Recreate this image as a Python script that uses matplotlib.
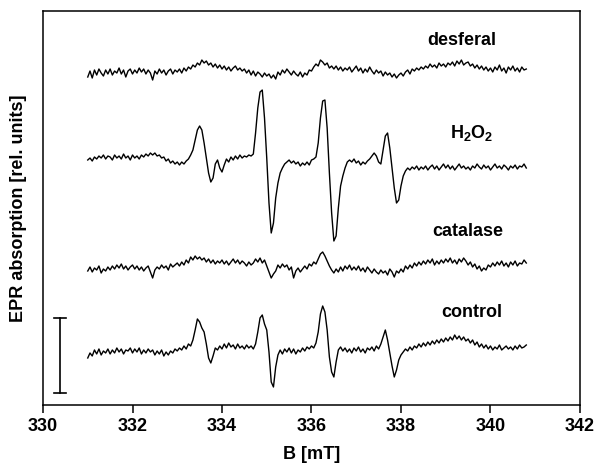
import numpy as np
import matplotlib
matplotlib.use("Agg")
import matplotlib.pyplot as plt

plt.rcParams['font.family'] = ['Liberation Sans', 'DejaVu Sans']
plt.rcParams['font.weight'] = 'bold'
plt.rcParams['mathtext.fontset'] = 'custom'
plt.rcParams['mathtext.bf'] = 'Liberation Sans:bold'
plt.rcParams['mathtext.rm'] = 'Liberation Sans:bold'
plt.rcParams['mathtext.default'] = 'bf'

# field axis of the spectra, 331.00 ... 340.80 mT in 0.05 mT steps
b_start = 331.0
b_step = 0.05

# spectra (rel. units, relative to each trace's own baseline)
desferal = [
    -5, 1, -6, 2, -3, 3, -1, -4, 2, -2,
    3, -3, 1, -1, 4, -2, 2, -5, 1, 3,
    -2, 2, -1, 4, 0, 3, -2, 2, -1, -8,
    1, -2, 3, -1, 2, -3, 1, 3, -2, 2,
    0, 3, -1, 4, 1, 5, 3, 7, 5, 9,
    7, 12, 9, 11, 7, 9, 5, 8, 4, 7,
    3, 6, 2, 5, 1, 4, 6, 2, 4, 1,
    3, -1, 2, -3, 1, -4, 0, -2, -5, -1,
    -4, -2, -6, -3, -7, 0, -3, 2, -1, 3,
    0, -3, 1, -2, -4, 0, -5, -1, -3, 2,
    1, 5, 8, 6, 12, 10, 7, 9, 4, 6,
    3, 6, 2, 5, 1, 4, 2, 5, 0, 3,
    6, 1, 4, -1, 3, 0, 5, 1, -2, 2,
    -1, 1, -4, 0, -3, -1, -5, -2, -6, -3,
    -1, -4, 0, 2, -2, 3, 1, 4, 2, 5,
    3, 6, 4, 8, 5, 7, 4, 9, 6, 8,
    5, 9, 7, 10, 6, 11, 8, 12, 7, 9,
    10, 6, 8, 4, 7, 3, 6, 2, 5, 1,
    4, 0, 5, 2, 7, 1, 4, -1, 5, 2,
    6, 1, 4, 0, 5, 2, 3,
]

h2o2 = [
    -2, 0, -3, 1, -1, 2, 0, 3, -1, 2,
    1, -2, 3, 0, 2, -1, 4, 0, 2, -2,
    3, 0, 2, -1, 3, 1, 4, 2, 5, 3,
    5, 2, 3, 0, 1, -3, -1, -5, -3, -6,
    -4, -7, -4, -6, -3, -1, 3, 8, 18, 28,
    32, 28, 15, 0, -15, -24, -20, -6, -2, -10,
    -14, -7, -1, -4, 1, -2, 2, -1, 3, 0,
    2, 1, 3, 2, 4, 25, 50, 66, 68, 40,
    0, -45, -75, -65, -40, -25, -15, -10, -6, -4,
    -2, -5, -3, -6, -4, -8, -5, -7, -4, -7,
    -2, -1, 1, 15, 40, 57, 58, 30, -15, -55,
    -83, -78, -50, -28, -18, -10, -4, -2, -4, -1,
    -5, -3, -7, -4, -6, -3, -1, 2, 5, 2,
    -4, -6, 8, 22, 25, 10, -10, -30, -45, -42,
    -28, -18, -13, -10, -12, -9, -11, -8, -12, -9,
    -11, -8, -12, -9, -7, -11, -8, -12, -9, -6,
    -10, -7, -11, -8, -12, -9, -6, -10, -8, -11,
    -9, -12, -8, -10, -6, -9, -11, -7, -10, -8,
    -12, -9, -6, -10, -8, -11, -7, -9, -12, -8,
    -10, -7, -11, -8, -9, -6, -10,
]

catalase = [
    -3, 1, -4, 0, -2, 2, -5, -1, -3, 1,
    -2, 2, -1, 3, 0, 4, -1, 2, -2, 1,
    3, -1, 2, -2, 1, -3, 0, 2, -4, -10,
    -2, 1, -1, 3, 0, 2, -2, 4, 1, 3,
    5, 2, 6, 3, 8, 5, 11, 8, 12, 9,
    11, 8, 10, 6, 9, 5, 8, 4, 7, 5,
    8, 4, 7, 3, 6, 9, 5, 8, 4, 7,
    5, 2, 6, 3, 5, 9, 6, 10, 5, 8,
    2, -4, -10, -6, -3, 3, 0, 4, 1, 3,
    -2, 1, -10, -3, 0, -4, -1, 2, -1, 4,
    2, 6, 4, 9, 14, 16, 12, 7, 2, -2,
    -5, -1, -4, 1, -3, 2, -1, 3, -2, 1,
    -2, 2, -3, 0, -4, 1, -2, -5, -1, -4,
    -6, -2, -5, -3, -7, -1, -4, -9, -3, -5,
    -1, -4, 2, -1, 3, 0, 5, 2, 6, 3,
    7, 4, 8, 5, 9, 3, 7, 4, 8, 5,
    9, 6, 10, 5, 8, 4, 9, 6, 10, 7,
    3, 6, 1, 4, -1, 2, -3, 0, -2, 3,
    1, 5, 2, 6, 3, 7, 2, 5, 1, 6,
    3, 7, 2, 5, 4, 8, 5,
]

control = [
    -6, -1, -4, 2, -2, 3, -3, 1, -1, 3,
    -2, 2, -1, 4, 0, 3, -2, 2, 1, 4,
    -1, 3, 0, 4, -2, 2, -1, 3, 0, 2,
    -3, 1, -2, 2, -4, 0, -3, 1, -1, 3,
    1, 4, 2, 6, 3, 8, 6, 12, 22, 33,
    30, 24, 20, 8, -6, -11, -4, 4, 2, 6,
    3, 8, 4, 9, 5, 7, 3, 8, 4, 6,
    3, 7, 4, 6, 3, 8, 20, 34, 37, 28,
    22, 0, -30, -35, -15, -3, 2, -2, 3, 0,
    4, -1, 3, -2, 2, 0, 4, 1, 5, 3,
    6, 4, 9, 20, 38, 46, 40, 22, -5, -20,
    -25, -10, 2, 5, 1, 4, 0, 3, -1, 4,
    1, 5, 0, 3, -1, 4, 2, 5, 1, 6,
    3, 8, 15, 22, 12, -1, -14, -25, -18, -8,
    -3, 0, 3, 1, 5, 2, 6, 4, 8, 5,
    9, 6, 10, 7, 11, 8, 12, 9, 13, 10,
    14, 11, 15, 12, 17, 13, 16, 12, 15, 11,
    13, 9, 12, 7, 10, 5, 8, 4, 7, 3,
    6, 2, 5, 3, 7, 2, 4, 6, 3, 5,
    2, 6, 3, 7, 4, 5, 7,
]

names = ['desferal', 'H$_2$O$_2$', 'catalase', 'control']
spectra = [desferal, h2o2, catalase, control]
offsets = [333, 247, 137, 53]
label_pos = [(339.36, 365), (339.59, 272), (339.50, 173), (339.59, 92)]

fig = plt.figure(figsize=(5.94, 4.69), dpi=100)
ax = fig.add_axes([0.0724, 0.1365, 0.904, 0.840])

for name, spec, off, (lx, ly) in zip(names, spectra, offsets, label_pos):
    y = np.array(spec, dtype=float)
    b = b_start + b_step * np.arange(len(y))
    ax.plot(b, y + off, color='black', lw=1.0)
    ax.text(lx, ly, name, ha='center', va='center', fontsize=13, fontweight='bold')

# scale bar
bar_x = 330.38
bar_lo, bar_hi = 12, 87
ax.plot([bar_x, bar_x], [bar_lo, bar_hi], color='black', lw=1.2)
ax.plot([bar_x - 0.13, bar_x + 0.13], [bar_lo, bar_lo], color='black', lw=1.2)
ax.plot([bar_x - 0.13, bar_x + 0.13], [bar_hi, bar_hi], color='black', lw=1.2)

ax.set_xlim(330, 342)
ax.set_ylim(0, 394)
ax.set_xticks(np.arange(330, 343, 2))
ax.set_yticks([])
ax.tick_params(axis='x', direction='out', length=6, width=1.1, labelsize=13)
for lab in ax.get_xticklabels():
    lab.set_fontweight('bold')
for sp in ax.spines.values():
    sp.set_linewidth(1.1)

ax.set_xlabel('B [mT]', fontsize=13, fontweight='bold', labelpad=8)
ax.set_ylabel('EPR absorption [rel. units]', fontsize=13, fontweight='bold')
ax.yaxis.set_label_coords(-0.03, 0.5)

fig.savefig('out.png', dpi=100)
